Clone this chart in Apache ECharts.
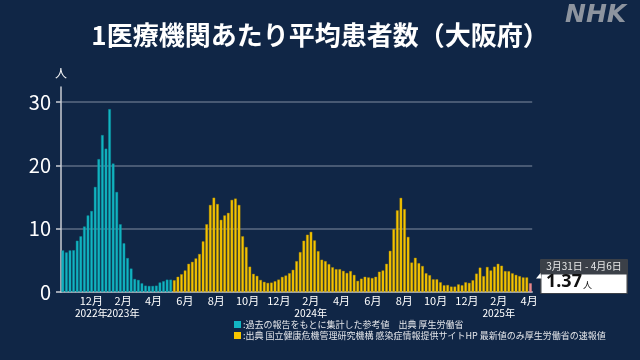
<!DOCTYPE html>
<html><head><meta charset="utf-8">
<script src="https://cdn.jsdelivr.net/npm/echarts@6/dist/echarts.min.js"></script>
<style>html,body{margin:0;padding:0;background:#102646;}#c{width:640px;height:360px;}</style>
</head><body><div id="c"></div>
<script>
// First reporting week starts Monday, Oct 3, 2022 (weekly bars, last week: Mar 31 - Apr 6, 2025)
const firstWeekStart = [2022, 9, 3];

// Teal: past reports (MHLW reference values), 31 weeks
const mhlwValues = [
  6.57, 6.25, 6.57, 6.6, 8.1, 8.8, 10.35, 12.1, 12.8, 16.6,
  21.0, 24.8, 22.65, 28.9, 20.3, 15.8, 10.7, 7.7, 5.36, 3.7,
  2.05, 1.9, 1.37, 1.0, 0.95, 0.95, 1.0, 1.5, 1.7, 1.95,
  1.95
];
// Yellow: JIHS infection information site values, 99 weeks
const jihsValues = [
  1.85, 2.4, 2.8, 3.4, 4.45, 4.76, 5.3, 6.0, 8.0, 10.7,
  13.75, 14.9, 13.9, 11.4, 12.1, 12.5, 14.55, 14.76, 13.75, 8.8,
  7.1, 4.0, 2.86, 2.54, 1.9, 1.6, 1.43, 1.48, 1.7, 1.96,
  2.38, 2.6, 2.96, 3.5, 4.87, 6.3, 8.1, 9.05, 9.5, 8.15,
  6.45, 5.1, 4.87, 4.4, 3.9, 3.6, 3.6, 3.33, 3.0, 3.3,
  2.7, 1.75, 2.1, 2.4, 2.3, 2.2, 2.4, 3.2, 3.4, 4.45,
  6.5, 9.95, 12.9, 14.87, 13.1, 8.7, 4.65, 5.4, 4.55, 4.1,
  2.96, 2.65, 2.0, 2.0, 1.53, 1.06, 1.1, 0.85, 0.85, 1.2,
  1.06, 1.53, 1.43, 1.85, 2.9, 3.85, 2.5, 3.95, 3.4, 4.0,
  4.45, 4.15, 3.3, 3.28, 2.95, 2.7, 2.5, 2.3, 2.3
];
// Latest preliminary value (MHLW)
const latestValue = 1.37;
const latestLabel = '3月31日 - 4月6日';

// X tick positions (1st of month) and labels
const tickMonths = [[2022,12],[2023,2],[2023,4],[2023,6],[2023,8],[2023,10],[2023,12],[2024,2],[2024,4],[2024,6],[2024,8],[2024,10],[2024,12],[2025,2],[2025,4]];
const tickLabels = ['12月','2月','4月','6月','8月','10月','12月','2月','4月','6月','8月','10月','12月','2月','4月'];
// Year labels, placed under the given month ticks
const yearMonthsA = [[2022,12]];
const yearLabelsA = ['2022年'];
const yearMonthsB = [[2023,2],[2024,2],[2025,2]];
const yearLabelsB = ['2023年','2024年','2025年'];
const yTicks = [0, 10, 20, 30];

const COL_TEAL = '#12b5c3', COL_YEL = '#f6c500', COL_PINK = '#e9878c';
const DAY = 86400000;

const allValues = mhlwValues.concat(jihsValues, [latestValue]);
const t0 = Date.UTC(firstWeekStart[0], firstWeekStart[1], firstWeekStart[2]);
const barData = allValues.map((v, i) => {
  const t = t0 + (7 * i + 3.5) * DAY;
  let color = COL_YEL, border = '#b88f00';
  if (i < mhlwValues.length) { color = COL_TEAL; border = '#0b8f9b'; }
  else if (i === allValues.length - 1) { color = COL_PINK; border = COL_PINK; }
  return { value: [t, v], itemStyle: { color: color, borderColor: border, borderWidth: 0.4 } };
});
const toTime = m => Date.UTC(m[0], m[1] - 1, 1);
const tickTimes = tickMonths.map(toTime);
const yearTimesA = yearMonthsA.map(toTime);
const yearTimesB = yearMonthsB.map(toTime);
const xMin = t0;
const xMax = t0 + 7 * allValues.length * DAY;

const FONT = '"Noto Sans CJK JP", "Noto Sans", sans-serif';
function labelAxis(times, labels, margin, showLine, size) {
  return {
    type: 'value', min: xMin, max: xMax, position: 'bottom',
    axisLine: { show: showLine, onZero: false, lineStyle: { color: '#c9cdd3', width: 1.5 } },
    axisTick: { show: false },
    splitLine: { show: false },
    axisLabel: {
      customValues: times, showMinLabel: true, showMaxLabel: true,
      color: '#ffffff', fontSize: size, margin: margin, fontFamily: FONT, hideOverlap: false,
      formatter: function (val) { const k = times.indexOf(val); return k >= 0 ? labels[k] : ''; }
    }
  };
}
const chart = echarts.init(document.getElementById('c'), null, { renderer: 'canvas' });
chart.setOption({
  backgroundColor: '#102646',
  animation: false,
  title: {
    text: '1医療機関あたり平均患者数（大阪府）',
    left: 'center', top: 17,
    textStyle: { color: '#ffffff', fontSize: 26, fontWeight: 'bold', fontFamily: FONT }
  },
  grid: { left: 61, right: 107.8, top: 87, bottom: 68, containLabel: false, outerBoundsMode: 'none' },
  xAxis: [
    labelAxis(tickTimes, tickLabels, 3, true, 11),
    labelAxis(yearTimesA, yearLabelsA, 16.5, false, 10.2),
    labelAxis(yearTimesB, yearLabelsB, 16.5, false, 10.2)
  ],
  yAxis: {
    type: 'value', min: 0, max: 32.4, interval: 10,
    name: '人', nameLocation: 'end', nameGap: 8,
    nameTextStyle: { color: '#ffffff', fontSize: 12, fontFamily: FONT, align: 'center' },
    axisLine: { show: true, lineStyle: { color: '#c9cdd3', width: 1.5 } },
    axisTick: { show: true, length: 5, customValues: yTicks, lineStyle: { color: '#c9cdd3', width: 1.5 } },
    axisLabel: { customValues: yTicks, showMinLabel: true, showMaxLabel: true, color: '#ffffff', fontSize: 20, margin: 10, fontFamily: FONT },
    splitLine: { show: true, showMinLine: false, lineStyle: { color: '#5b6b83', width: 1.5 } }
  },
  series: [{
    type: 'bar', barWidth: 2.6, data: barData, z: 3, xAxisIndex: 0
  }],
  graphic: [
    { type: 'text', left: 565, top: 3, style: { text: 'NHK', fill: '#8d949f', font: 'italic 900 25px "DejaVu Sans", sans-serif' } },
    { type: 'rect', shape: { x: 234, y: 321, width: 7, height: 7 }, style: { fill: COL_TEAL } },
    { type: 'text', x: 243, y: 324.5, style: { text: ':過去の報告をもとに集計した参考値　出典 厚生労働省', fill: '#e4e6ea', font: '9px ' + FONT, verticalAlign: 'middle' } },
    { type: 'rect', shape: { x: 234, y: 332, width: 7, height: 7 }, style: { fill: COL_YEL } },
    { type: 'text', x: 243, y: 335.5, style: { text: ':出典 国立健康危機管理研究機構 感染症情報提供サイトHP 最新値のみ厚生労働省の速報値', fill: '#e4e6ea', font: '9px ' + FONT, verticalAlign: 'middle' } },
    { type: 'rect', shape: { x: 540, y: 259, width: 88, height: 35, r: 1 }, style: { fill: '#3b4048' } },
    { type: 'rect', shape: { x: 541.5, y: 274.5, width: 85, height: 18.5 }, style: { fill: '#ffffff' } },
    { type: 'polygon', shape: { points: [[536, 278.5], [540.5, 273], [541.5, 278.5]] }, style: { fill: '#ffffff' } },
    { type: 'text', x: 584, y: 266.5, style: { text: latestLabel, fill: '#e8e8e8', font: '10px ' + FONT, align: 'center', verticalAlign: 'middle' } },
    { type: 'text', x: 546, y: 290.5, style: {
        text: '{a|' + latestValue.toFixed(2) + '}{b|人}', verticalAlign: 'bottom',
        rich: {
          a: { fill: '#111111', fontSize: 18, fontWeight: 'bold', fontFamily: '"Noto Sans", sans-serif', verticalAlign: 'bottom' },
          b: { fill: '#111111', fontSize: 9, fontFamily: FONT, verticalAlign: 'bottom', padding: [0, 0, 1, 1] }
        } } }
  ]
});
</script></body></html>
